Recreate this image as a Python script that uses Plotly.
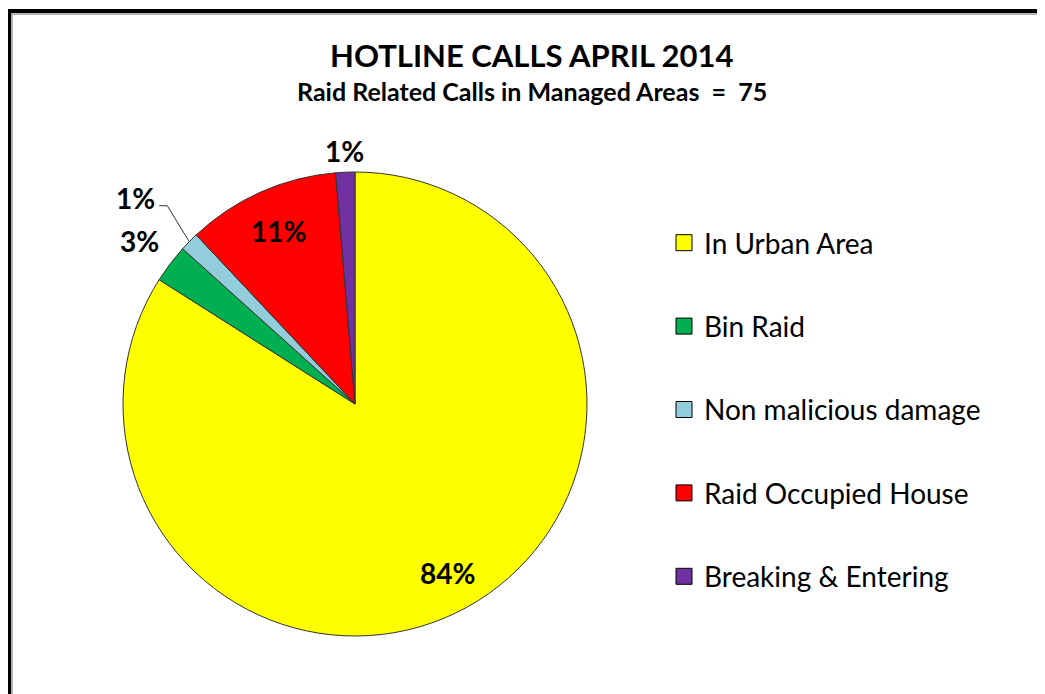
import math
import plotly.graph_objects as go

categories = ["In Urban Area", "Bin Raid", "Non malicious damage", "Raid Occupied House", "Breaking & Entering"]
calls = [63, 2, 1, 8, 1]
colors = ["#FFFF00", "#00B050", "#92CDDC", "#FF0000", "#7030A0"]

# page offset of the plot (body margin) and figure size
OFF = 8
W, H = 1045 - OFF, 694 - OFF
cx, cy, r = 355, 404, 232  # pie centre / radius in page pixels


def px(x):
    return (x - OFF) / W


def py(y):
    return 1 - (y - OFF) / H


fig = go.Figure()
fig.add_trace(go.Pie(
    labels=categories,
    values=calls,
    sort=False,
    direction="clockwise",
    rotation=0,
    marker=dict(colors=colors, line=dict(color="#333333", width=1)),
    textinfo="none",
    showlegend=False,
    hoverinfo="label+percent",
    domain=dict(x=[px(cx - r), px(cx + r)], y=[py(cy + r), py(cy - r)]),
))

for name, col in zip(categories, colors):
    fig.add_trace(go.Scatter(
        x=[None], y=[None], mode="markers", name=name, legendgroup=name,
        marker=dict(symbol="square", size=16, color=col, line=dict(color="black", width=1)),
    ))

# percentage labels placed at each slice's mid-angle
total = sum(calls)
label_radius = [0.83, 1.165, None, 0.815, 1.09]  # fraction of radius (None -> leader line label)
annotations = []
shapes = []
cum = 0
label_font = dict(family="Lato", size=28, color="black")
for v, lr in zip(calls, label_radius):
    frac = v / total
    mid = (cum + frac / 2) * 2 * math.pi
    cum += frac
    txt = "<b>%d%%</b>" % round(frac * 100)
    if lr is not None:
        x = cx + lr * r * math.sin(mid)
        y = cy - lr * r * math.cos(mid)
        annotations.append(dict(text=txt, x=px(x), y=py(y), xref="paper", yref="paper",
                                xanchor="center", yanchor="middle", showarrow=False, font=label_font))
    else:
        x0 = cx + r * math.sin(mid)
        y0 = cy - r * math.cos(mid)
        ex, ey = x0 - 22, y0 - 36
        tx, ty = ex - 8, ey
        shapes.append(dict(type="path", xref="paper", yref="paper",
                           path="M %f,%f L %f,%f L %f,%f" % (px(x0), py(y0), px(ex), py(ey), px(tx), py(ty)),
                           line=dict(color="#333333", width=1)))
        annotations.append(dict(text=txt, x=px(tx - 2), y=py(ty - 8), xref="paper", yref="paper",
                                xanchor="right", yanchor="middle", showarrow=False, font=label_font))

annotations += [
    dict(text="<b>HOTLINE CALLS APRIL 2014</b>", x=px(532), y=py(55), xref="paper", yref="paper",
         xanchor="center", yanchor="middle", showarrow=False,
         font=dict(family="Lato", size=31, color="black")),
    dict(text="<b>Raid Related Calls in Managed Areas \u00a0=\u00a0 75</b>", x=px(532), y=py(91),
         xref="paper", yref="paper", xanchor="center", yanchor="middle", showarrow=False,
         font=dict(family="Lato", size=25, color="black")),
]

shapes += [
    dict(type="line", xref="paper", yref="paper", x0=px(7), x1=1, y0=py(11), y1=py(11),
         line=dict(color="black", width=4)),
    dict(type="line", xref="paper", yref="paper", x0=px(9), x1=px(9), y0=0, y1=py(9),
         line=dict(color="black", width=4)),
    dict(type="line", xref="paper", yref="paper", x0=px(11), x1=1, y0=py(14), y1=py(14),
         line=dict(color="#999999", width=1.5)),
    dict(type="line", xref="paper", yref="paper", x0=px(12), x1=px(12), y0=0, y1=py(14),
         line=dict(color="#999999", width=1.5)),
]

fig.update_layout(
    width=W, height=H,
    margin=dict(l=0, r=0, t=0, b=0),
    paper_bgcolor="white", plot_bgcolor="white",
    xaxis=dict(visible=False), yaxis=dict(visible=False),
    legend=dict(x=px(664), y=py(218), xanchor="left", yanchor="top",
                font=dict(family="Lato", size=28, color="black"),
                tracegroupgap=44, bgcolor="rgba(0,0,0,0)"),
    annotations=annotations,
    shapes=shapes,
)

fig.write_html("out.html")
